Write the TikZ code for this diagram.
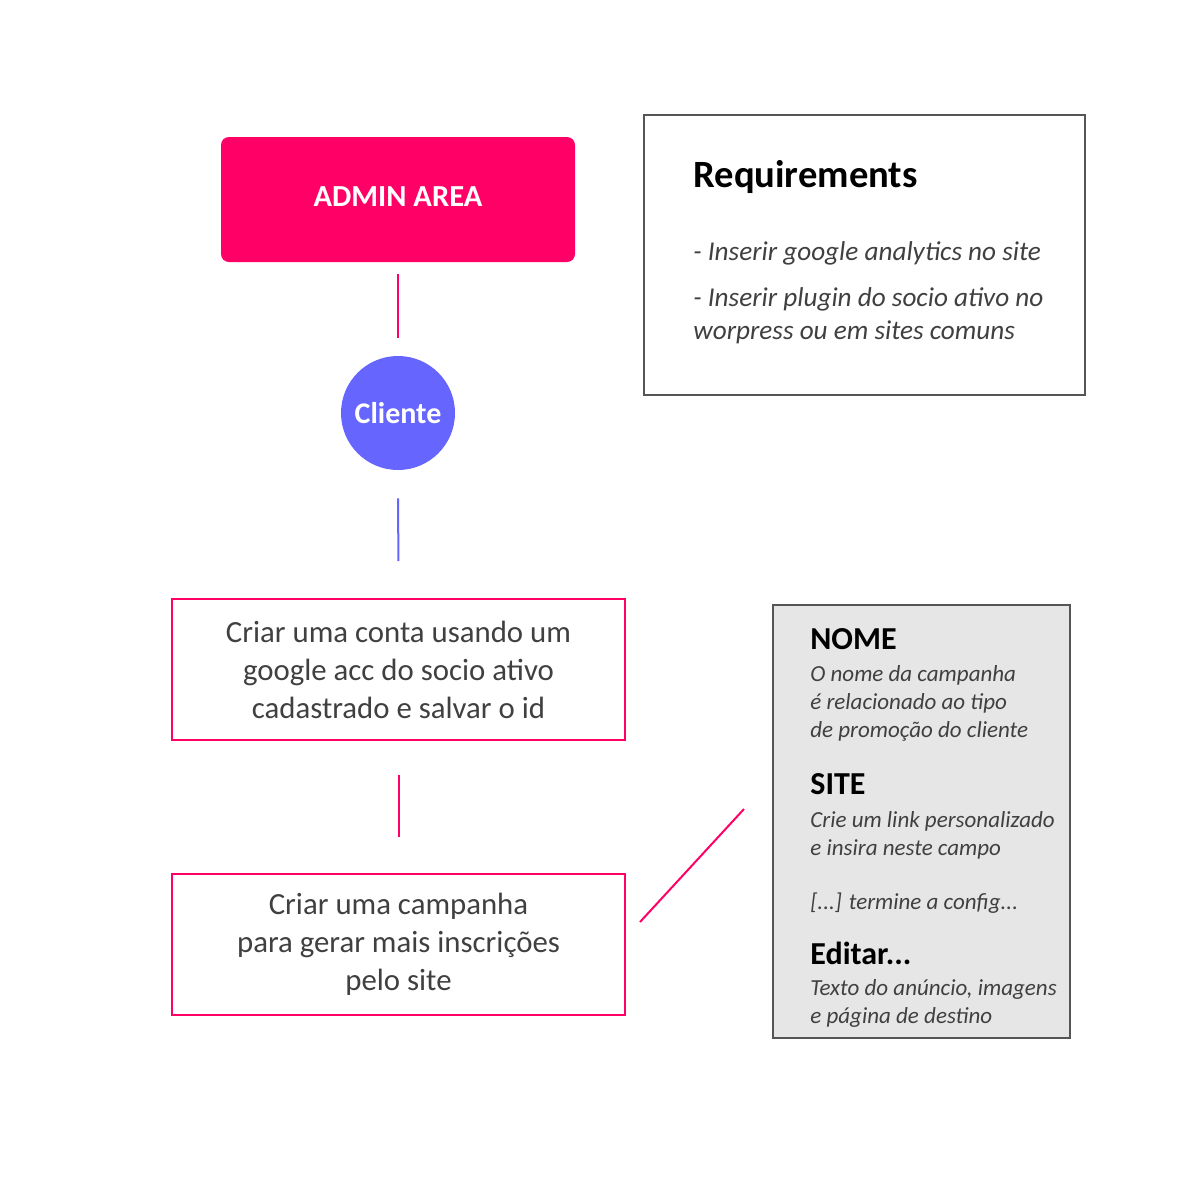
\documentclass[tikz,border=0pt]{standalone}
\usepackage{fontspec}
\setmainfont{Carlito}
\definecolor{pinkc}{HTML}{FF0066}
\definecolor{bluec}{HTML}{6666FF}
\definecolor{txtc}{HTML}{404040}
\definecolor{framec}{HTML}{555555}
\definecolor{boxg}{HTML}{E6E6E6}
\begin{document}
\begin{tikzpicture}[x=0.5pt,y=-0.5pt,
  pinkline/.style={draw=pinkc,line width=1pt},
  blueline/.style={draw=bluec,line width=1pt},
  stepbox/.style={draw=pinkc,line width=1pt,fill=white,minimum width=226.5pt,minimum height=70.5pt,inner sep=0pt,align=center,text=txtc,font=\fontsize{15.4}{19}\selectfont},
  headtxt/.style={anchor=west,inner sep=0pt,font=\bfseries\fontsize{16}{19}\selectfont,text=black},
  ittxt/.style={anchor=west,inner sep=0pt,font=\itshape\fontsize{11.5}{14}\selectfont,text=txtc},
  reqtxt/.style={anchor=west,inner sep=0pt,font=\itshape\fontsize{13.6}{16.5}\selectfont,text=txtc,align=left}
]
\useasboundingbox[fill=white] (0,0) rectangle (1200,1200);

% Admin area
\node[fill=pinkc,rounded corners=4pt,minimum width=177pt,minimum height=62.5pt,inner sep=0pt,
  text=white,font=\bfseries\fontsize{15.3}{18}\selectfont] (admin) at (398,199.5) {};
\node[text=white,inner sep=0pt,font=\bfseries\fontsize{15.3}{18}\selectfont] (admintxt) at (398,197) {ADMIN AREA};

% Cliente
\node[circle,fill=bluec,minimum size=57pt,inner sep=0pt,text=white,
  font=\bfseries\fontsize{15}{18}\selectfont] (cli) at (398,413) {Cliente};

% Step boxes
\node[stepbox] (b1) at (398.5,669.5) {Criar uma conta usando um\\google acc do socio ativo\\cadastrado e salvar o id};
\node[stepbox] (b2) at (398.5,944) {Criar uma campanha\\para gerar mais inscrições\\pelo site};

% Connectors
\draw[pinkline,shorten <=6pt,shorten >=9pt] (admin.south) -- (cli.north);
\draw[blueline,shorten <=14pt,shorten >=18.5pt] (cli.south) -- (b1.north);
\draw[pinkline,shorten <=17pt,shorten >=18pt] (b1.south) -- (b2.north);
\coordinate (d1) at (640,922);
\coordinate (d2) at (744,809);
\draw[pinkline] (d1) -- (d2);

% Requirements box
\node[draw=framec,line width=1pt,minimum width=220.5pt,minimum height=140pt,inner sep=0pt] (req) at (864.5,255) {};
\node[anchor=west,inner sep=0pt,font=\bfseries\fontsize{19.3}{22}\selectfont] (reqh) at (693,177) {Requirements};
\node[reqtxt] (r1) at (693,253) {- Inserir google analytics no site};
\node[reqtxt] (r2) at (693,315.5) {- Inserir plugin do socio ativo no\\worpress ou em sites comuns};

% Right gray box
\node[draw=framec,line width=1pt,fill=boxg,minimum width=148.5pt,minimum height=216.5pt,inner sep=0pt] (cfg) at (921.5,821.5) {};
\node[headtxt] (h1) at (810,639) {NOME};
\node[ittxt] (t1) at (810,675) {O nome da campanha};
\node[ittxt] (t2) at (810,703) {é relacionado ao tipo};
\node[ittxt] (t3) at (810,731) {de promoção do cliente};
\node[headtxt] (h2) at (810,784) {SITE};
\node[ittxt] (t4) at (810,821) {Crie um link personalizado};
\node[ittxt] (t5) at (810,849) {e insira neste campo};
\node[ittxt] (t6) at (810,903) {[...] termine a config...};
\node[headtxt] (h3) at (810,953) {Editar...};
\node[ittxt] (t7) at (810,989) {Texto do anúncio, imagens};
\node[ittxt] (t8) at (810,1017) {e página de destino};
\end{tikzpicture}
\end{document}
